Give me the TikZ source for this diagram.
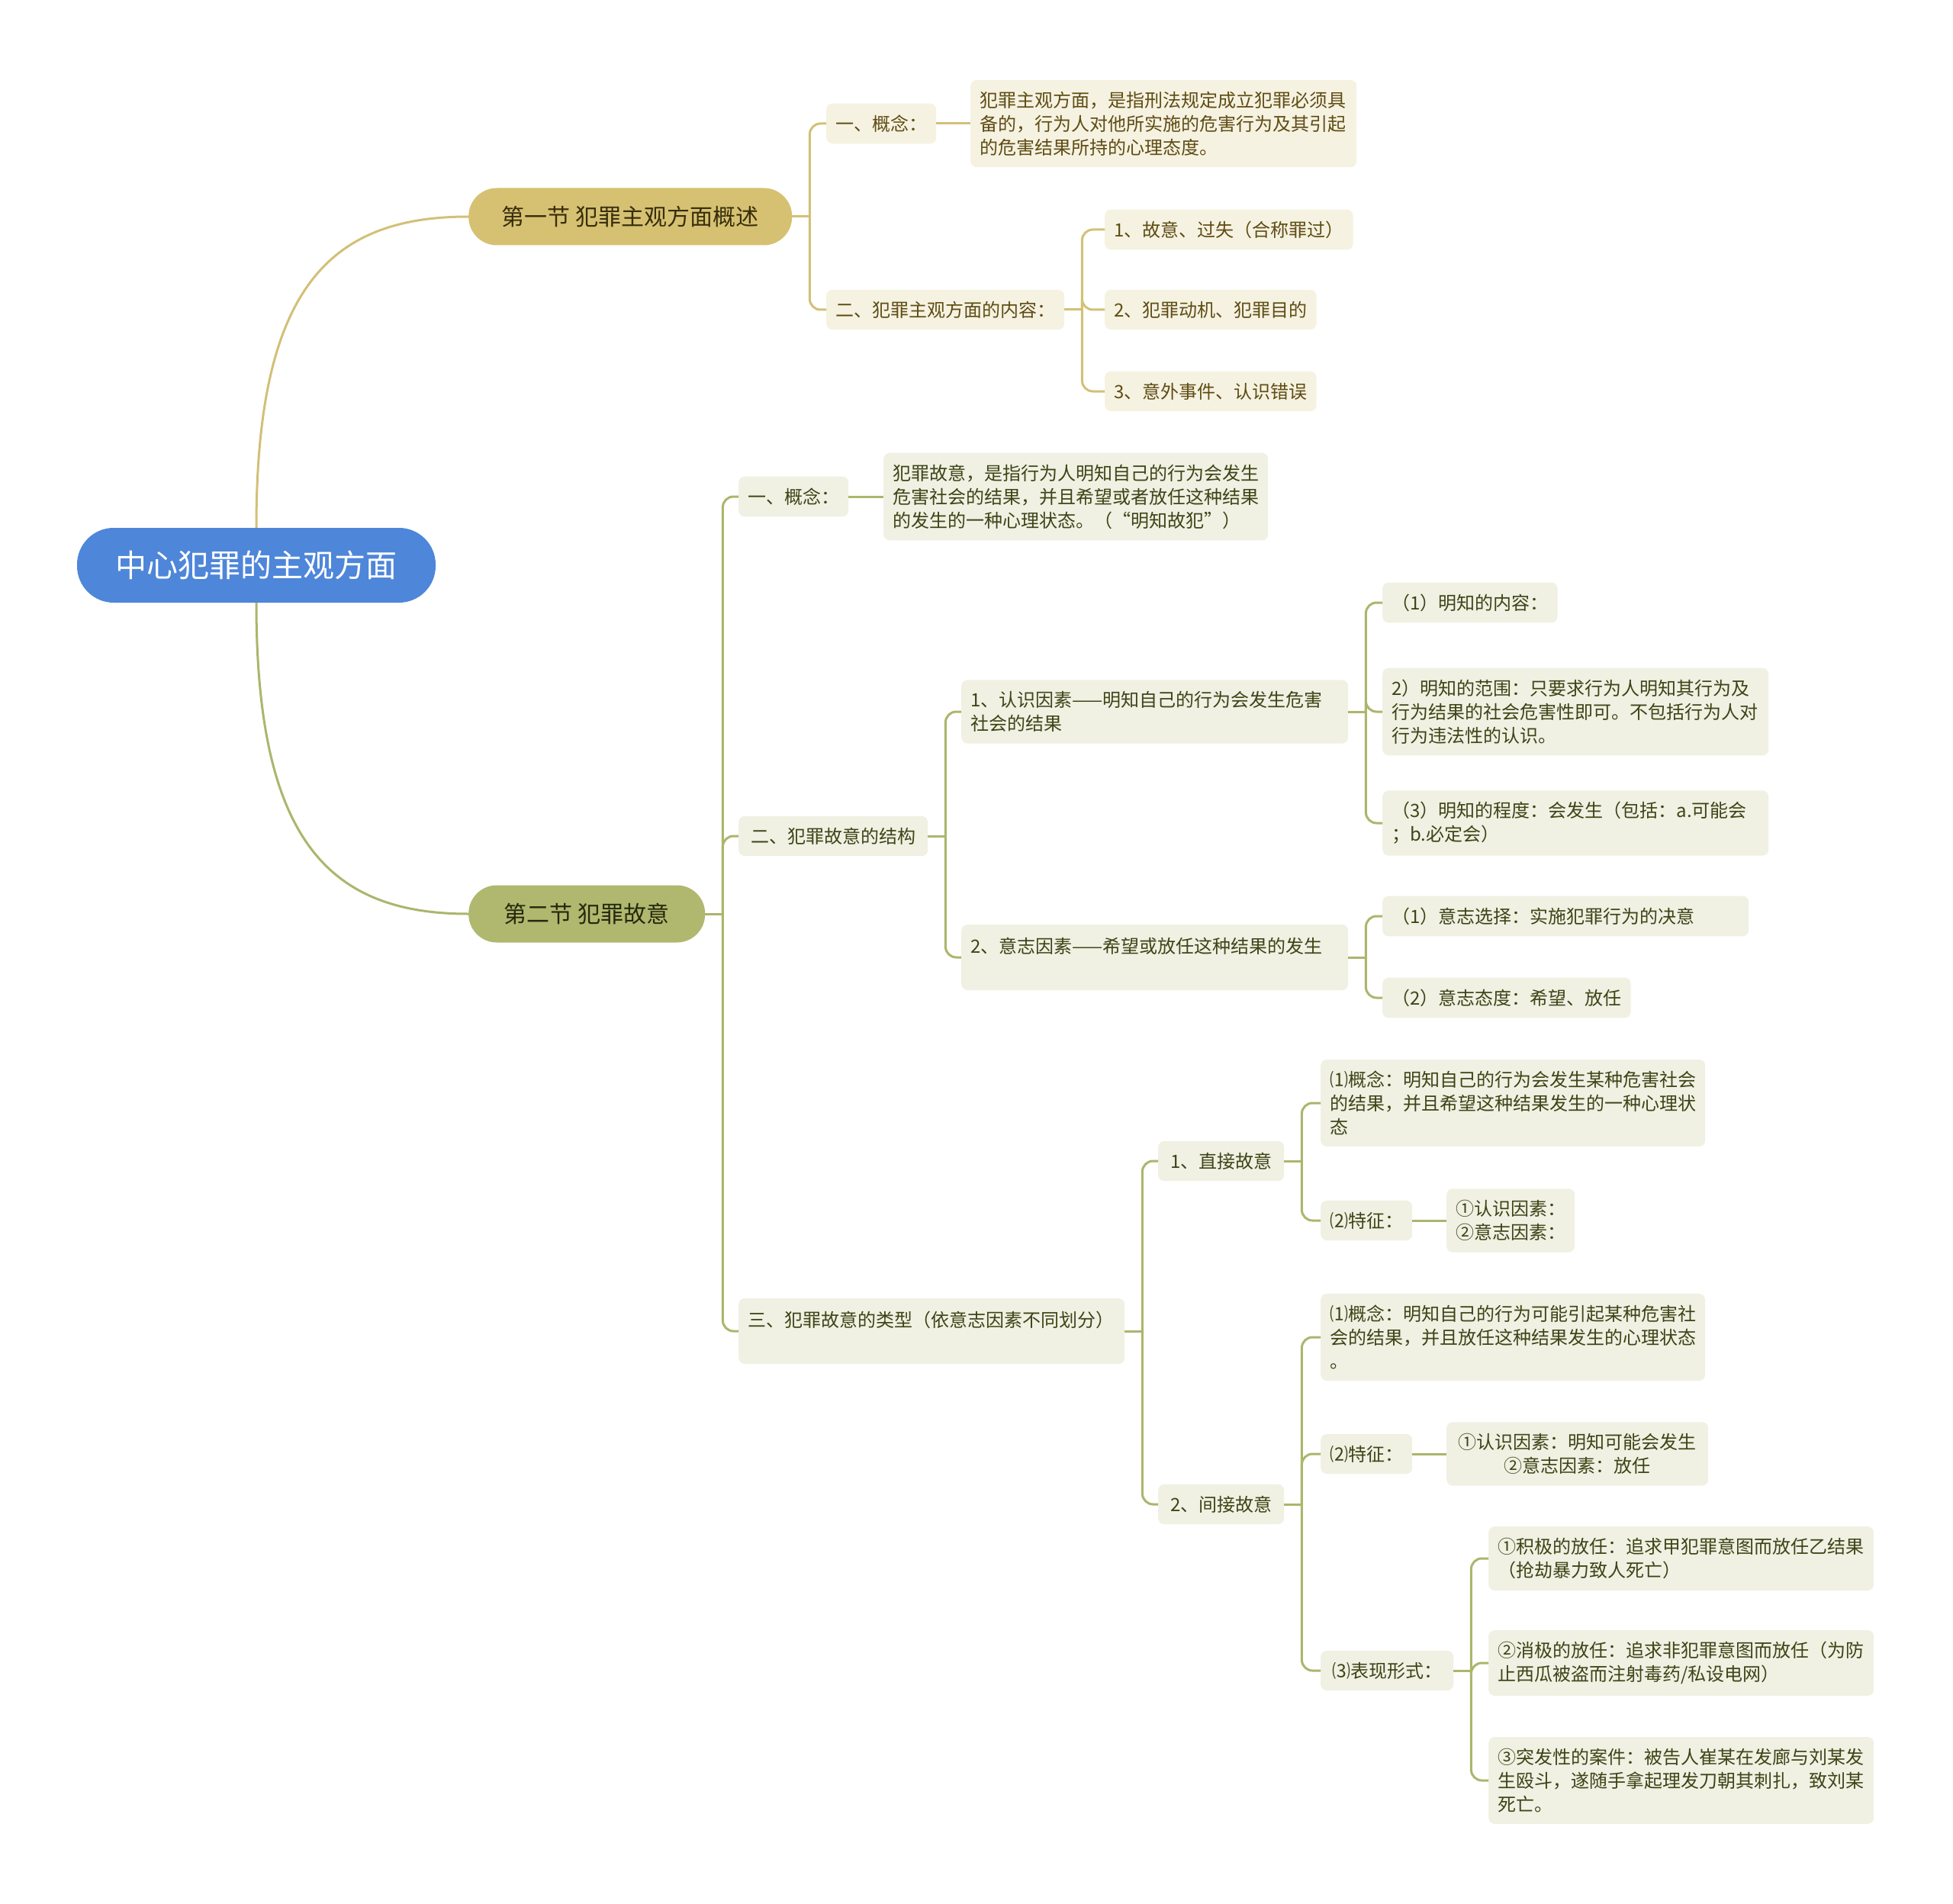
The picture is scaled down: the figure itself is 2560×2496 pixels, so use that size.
\documentclass[tikz,border=0pt]{standalone}
\usepackage{fontspec}
\setmainfont{Noto Sans CJK SC}
\usepackage{tikz}
\usetikzlibrary{positioning, calc}
\usepackage{xcolor}

\definecolor{rootblue}{HTML}{4E86D9}
\definecolor{goldN}{HTML}{D6C172}
\definecolor{goldL}{HTML}{D3C077}
\definecolor{goldF}{HTML}{F6F2E1}
\definecolor{goldT}{HTML}{5E4C14}
\definecolor{oliveN}{HTML}{AFB86E}
\definecolor{oliveL}{HTML}{ADB56C}
\definecolor{oliveF}{HTML}{F0F1E3}
\definecolor{oliveT}{HTML}{3E4416}

% parent -> spine -> children
\newcommand{\fork}[3]{%
  \draw[#2] (#1.east) -- ++(23,0) coordinate (#1-s);
  \foreach \c in {#3}
    \draw[#2, rounded corners=14pt] (#1-s) |- (\c.west);}

\begin{document}
\begin{tikzpicture}[
  x=1pt, y=-1pt,
  R/.style={rectangle, rounded corners=48pt, fill=rootblue, text=white,
            font=\fontsize{41}{48}\selectfont,
            minimum width=470pt, minimum height=98pt},
  S/.style={rectangle, rounded corners=37pt, minimum height=75pt,
            inner xsep=40pt, anchor=west,
            font=\fontsize{30}{36}\selectfont},
  Sa/.style={S, fill=goldN,  text=goldT!60!black},
  Sb/.style={S, fill=oliveN, text=oliveT!60!black},
  B/.style={rectangle, rounded corners=8pt, inner xsep=12pt,
            inner ysep=15pt, align=left, anchor=west,
            font=\fontsize{24}{31}\selectfont},
  Ba/.style={B, fill=goldF,  text=goldT},
  Bb/.style={B, fill=oliveF, text=oliveT},
  la/.style={draw=goldL,  line width=3pt},
  lb/.style={draw=oliveL, line width=3pt},
]
\path[fill=white] (0,0) rectangle (2560,2496);

%% ---- root & sections ----
\node[R]  (root) at (336,741)  {中心犯罪的主观方面};
\node[Sa, minimum width=424pt] (s1) at (614,284)  {第一节 犯罪主观方面概述};
\node[Sb, minimum width=310pt] (s2) at (614,1198) {第二节 犯罪故意};

\draw[la] (root.north) .. controls (336,380) and (430,284) .. (s1.west);
\draw[lb] (root.south) .. controls (336,1100) and (430,1198) .. (s2.west);

%% ---- section 1 ----
\node[Ba] (a1)  at (1083,162) {一、概念：};
\node[Ba, text width=482pt] (a1t) at (1272,162)
  {犯罪主观方面，是指刑法规定成立犯罪必须具\\备的，行为人对他所实施的危害行为及其引起\\的危害结果所持的心理态度。};
\node[Ba] (a2)  at (1083,406) {二、犯罪主观方面的内容：};
\node[Ba] (a21) at (1448,301) {1、故意、过失（合称罪过）};
\node[Ba] (a22) at (1448,406) {2、犯罪动机、犯罪目的};
\node[Ba] (a23) at (1448,513) {3、意外事件、认识错误};

\fork{s1}{la}{a1,a2}
\draw[la] (a1.east) -- (a1t.west);
\fork{a2}{la}{a21,a22,a23}

%% ---- section 2: concept & structure ----
\node[Bb] (b1) at (968,651) {一、概念：};
\node[Bb, text width=480pt] (b1t) at (1158,651)
  {犯罪故意，是指行为人明知自己的行为会发生\\危害社会的结果，并且希望或者放任这种结果\\的发生的一种心理状态。（“明知故犯”）};
\node[Bb, minimum width=248pt] (b2) at (968,1096) {二、犯罪故意的结构};

\node[Bb, text width=483pt] (b21) at (1260,933)
  {1、认识因素——明知自己的行为会发生危害\\社会的结果};
\node[Bb] (b211) at (1812,790) {（1）明知的内容：};
\node[Bb, text width=482pt] (b212) at (1812,933)
  {2）明知的范围：只要求行为人明知其行为及\\行为结果的社会危害性即可。不包括行为人对\\行为违法性的认识。};
\node[Bb, text width=482pt] (b213) at (1812,1079)
  {（3）明知的程度：会发生（包括：a.可能会\\；b.必定会）};

\node[Bb, text width=483pt, minimum height=86pt] (b22) at (1260,1255)
  {2、意志因素——希望或放任这种结果的发生\\\mbox{}};
\node[Bb, text width=456pt] (b221) at (1812,1201) {（1）意志选择：实施犯罪行为的决意};
\node[Bb] (b222) at (1812,1308) {（2）意志态度：希望、放任};

%% ---- section 2: types ----
\node[Bb, text width=482pt, minimum height=86pt] (b3) at (968,1745)
  {三、犯罪故意的类型（依意志因素不同划分）\\\mbox{}};

\node[Bb, minimum width=165pt] (b31) at (1518,1522) {1、直接故意};
\node[Bb, text width=480pt] (b311) at (1731,1446)
  {⑴概念：明知自己的行为会发生某种危害社会\\的结果，并且希望这种结果发生的一种心理状\\态};
\node[Bb] (b312)  at (1731,1600) {⑵特征：};
\node[Bb] (b3121) at (1896,1600) {①认识因素：\\②意志因素：};

\node[Bb, minimum width=165pt] (b32) at (1518,1972) {2、间接故意};
\node[Bb, text width=480pt] (b321) at (1731,1753)
  {⑴概念：明知自己的行为可能引起某种危害社\\会的结果，并且放任这种结果发生的心理状态\\。};
\node[Bb] (b322) at (1731,1906) {⑵特征：};
\node[Bb, text width=319pt, align=center] (b3221) at (1896,1906)
  {①认识因素：明知可能会发生\\②意志因素：放任};
\node[Bb, minimum width=174pt] (b323) at (1731,2190) {⑶表现形式：};
\node[Bb, text width=481pt] (b3231) at (1951,2043)
  {①积极的放任：追求甲犯罪意图而放任乙结果\\（抢劫暴力致人死亡）};
\node[Bb, text width=481pt] (b3232) at (1951,2180)
  {②消极的放任：追求非犯罪意图而放任（为防\\止西瓜被盗而注射毒药/私设电网）};
\node[Bb, text width=481pt] (b3233) at (1951,2334)
  {③突发性的案件：被告人崔某在发廊与刘某发\\生殴斗，遂随手拿起理发刀朝其刺扎，致刘某\\死亡。};

%% ---- section 2 links ----
\fork{s2}{lb}{b1,b2,b3}
\draw[lb] (b1.east) -- (b1t.west);
\fork{b2}{lb}{b21,b22}
\fork{b21}{lb}{b211,b212,b213}
\fork{b22}{lb}{b221,b222}
\fork{b3}{lb}{b31,b32}
\fork{b31}{lb}{b311,b312}
\draw[lb] (b312.east) -- (b3121.west);
\fork{b32}{lb}{b321,b322,b323}
\draw[lb] (b322.east) -- (b3221.west);
\fork{b323}{lb}{b3231,b3232,b3233}

\end{tikzpicture}
\end{document}
